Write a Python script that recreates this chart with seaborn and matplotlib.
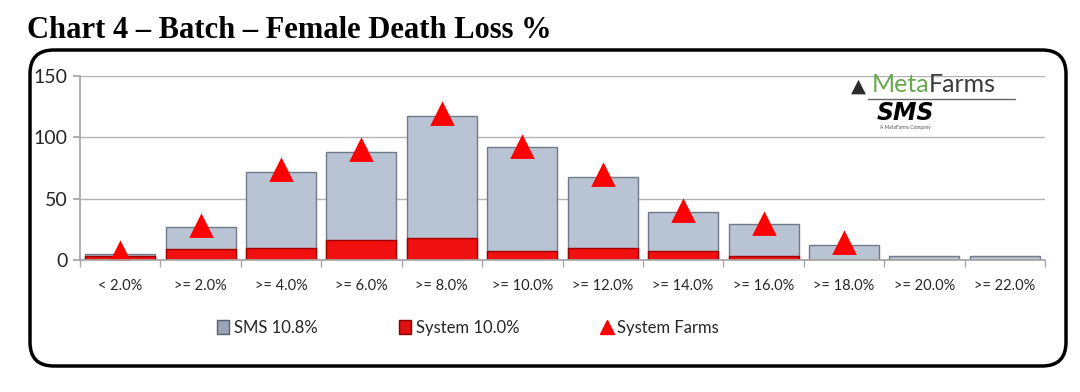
import matplotlib
matplotlib.use("Agg")
import matplotlib.pyplot as plt
import seaborn as sns
import numpy as np
from matplotlib.patches import FancyBboxPatch, Patch
from matplotlib.lines import Line2D

# data
categories = ["< 2.0%", ">= 2.0%", ">= 4.0%", ">= 6.0%", ">= 8.0%", ">= 10.0%",
              ">= 12.0%", ">= 14.0%", ">= 16.0%", ">= 18.0%", ">= 20.0%", ">= 22.0%"]
sms_values = [5, 27, 72, 88, 117, 92, 68, 39, 29, 12, 3, 3]
system_values = [3, 9, 10, 16, 18, 7, 10, 7, 3, 0, 0, 0]
farm_values = [6, 28, 73, 90, 119, 92, 69, 40, 29, 14, np.nan, np.nan]
legend_labels = ["SMS 10.8%", "System 10.0%", "System Farms"]

sns.set_theme(style="white")
plt.rcParams["font.family"] = ["Lato", "DejaVu Sans"]

fig = plt.figure(figsize=(10.8, 3.92), dpi=100)
ax = fig.add_axes([80 / 1080, 1 - 260 / 392, 965 / 1080, 184 / 392])

sns.barplot(x=categories, y=sms_values, color="#b8c3d4", saturation=1,
            width=0.87, edgecolor="#6f7a8a", linewidth=1.0, ax=ax)
sns.barplot(x=categories, y=system_values, color="#f01010", saturation=1,
            width=0.87, edgecolor="#a00000", linewidth=1.0, ax=ax)
sns.pointplot(x=categories, y=farm_values, color="red", linestyle="none",
              marker="^", markersize=15, errorbar=None, ax=ax)

ax.set_xlim(-0.5, len(categories) - 0.5)
ax.set_ylim(0, 150)
ax.set_yticks([0, 50, 100, 150])
ax.yaxis.grid(True, color="#b3b3b3", linewidth=1)
ax.set_axisbelow(True)
for side in ["top", "right"]:
    ax.spines[side].set_visible(False)
for side in ["left", "bottom"]:
    ax.spines[side].set_color("#a6a6a6")
ax.tick_params(axis="y", left=True, length=5, color="#a6a6a6", labelsize=14,
               labelcolor="#262626", pad=4)
ax.tick_params(axis="x", bottom=False, labelsize=10.5, labelcolor="#262626", pad=8)
ax.set_xticks(np.arange(-0.5, len(categories)), minor=True)
ax.tick_params(axis="x", which="minor", bottom=True, length=5, color="#a6a6a6")
ax.set_xlabel("")
ax.set_ylabel("")

# legend
handles = [Patch(facecolor="#9aa4b4", edgecolor="#555f6e"),
           Patch(facecolor="#e01010", edgecolor="#8a0000"),
           Line2D([], [], marker="^", color="red", linestyle="none", markersize=10)]
fig.legend(handles, legend_labels, loc="center", bbox_to_anchor=(468 / 1080, 1 - 328 / 392),
           ncol=3, frameon=False, fontsize=12, columnspacing=4.9, handlelength=0.7,
           handleheight=0.9, handletextpad=0.3, labelcolor="#262626")

# rounded frame
box = FancyBboxPatch((30 / 1080, 1 - 366 / 392), 1036 / 1080, 316 / 392,
                     boxstyle="round,pad=0,rounding_size=0.022", transform=fig.transFigure,
                     facecolor="none", edgecolor="black", linewidth=2.5, mutation_aspect=1080 / 392)
fig.patches.append(box)

# title
fig.text(27 / 1080, 1 - 30 / 392, "Chart 4 \u2013 Batch \u2013 Female Death Loss %",
         family="Liberation Serif", fontweight="bold", fontsize=22, color="black",
         va="center", ha="left")

# logo
fig.text(866 / 1080, 1 - 86 / 392, "\u25b2", color="#2b2b2b", fontsize=14, ha="right", va="center",
         family="DejaVu Sans")
fig.text(929 / 1080, 1 - 85 / 392, "Meta", color="#6aa84f", fontsize=18, ha="right", va="center")
fig.text(929 / 1080, 1 - 85 / 392, "Farms", color="#3a3a3a", fontsize=18, ha="left", va="center")
fig.add_artist(Line2D([868 / 1080, 1015 / 1080], [1 - 99 / 392, 1 - 99 / 392],
                      color="#666666", linewidth=1, transform=fig.transFigure))
fig.text(905 / 1080, 1 - 113 / 392, "SMS", color="black", fontsize=17, fontweight="black",
         style="italic", ha="center", va="center", family="DejaVu Sans")
fig.text(905 / 1080, 1 - 127 / 392, "A MetaFarms Company", color="#555555", fontsize=3.5,
         ha="center", va="center")

fig.savefig("out.png", dpi=100)
